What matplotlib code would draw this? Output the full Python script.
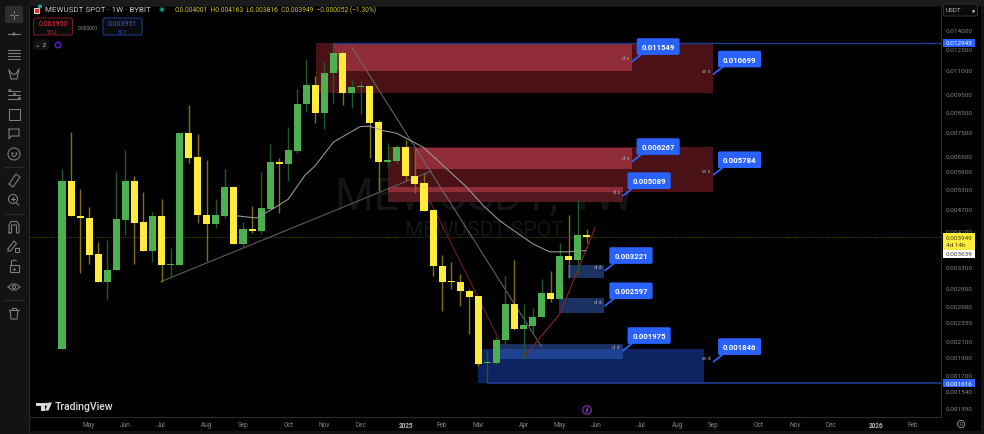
"""MEWUSDT weekly candles with supply / demand zones, drawn like a TradingView screen."""

import matplotlib
matplotlib.use("Agg")
import matplotlib.pyplot as plt
from matplotlib.patches import Circle, FancyBboxPatch, Polygon, Rectangle

plt.rcParams["font.family"] = ["Roboto", "DejaVu Sans"]

# ---------------------------------------------------------------------------
# Data
# ---------------------------------------------------------------------------
OPEN = [.00200, .00555, .00450, .00445, .00356, .00301, .00323, .00439, .00558, .00432,
        .00363, .00450, .00334, .00334, .00745, .00644, .00453, .00428, .00450, .00538,
        .00378, .00414, .00409, .00470, .00626, .00618, .00670, .00890, .01001, .00845,
        .01075, .01214, .00951, .00989, .00994, .00797, .00626, .00629, .00684, .00575,
        .00549, .00465, .00332, .00302, .00301, .00285, .00275, .00183, .00183, .00211,
        .00263, .00225, .00230, .00242, .00280, .00270, .00352, .00344, .004001]
HIGH = [.00599, .00750, .00531, .00476, .00383, .00387, .00588, .00673, .00575, .00521,
        .00460, .00499, .00370, .00748, .00886, .00742, .00631, .00499, .00599, .00541,
        .00433, .00479, .00588, .00698, .00641, .00773, .00977, .01173, .01059, .01154,
        .01295, .01229, .01032, .01028, .00998, .00808, .00701, .00694, .00716, .00681,
        .00583, .00465, .00355, .00339, .00315, .00288, .00275, .00198, .00215, .00312,
        .00344, .00263, .00256, .00305, .00321, .00382, .00453, .00499, .004163]
LOW = [.00200, .00449, .00318, .00336, .00300, .00271, .00323, .00401, .00336, .00363,
       .00339, .00301, .00308, .00334, .00622, .00431, .00341, .00418, .00444, .00378,
       .00370, .00406, .00402, .00470, .00458, .00558, .00661, .00847, .00795, .00765,
       .00897, .00888, .00870, .00839, .00641, .00523, .00607, .00618, .00558, .00517,
       .00463, .00312, .00252, .00288, .00260, .00218, .00180, .00162, .00182, .00205,
       .00224, .00188, .00218, .00242, .00265, .00270, .00308, .00313, .003816]
CLOSE = [.00555, .00449, .00444, .00355, .00301, .00324, .00440, .00558, .00430, .00363,
         .00450, .00334, .00336, .00745, .00642, .00452, .00428, .00452, .00538, .00378,
         .00414, .00409, .00471, .00624, .00618, .00673, .00893, .01001, .00845, .01077,
         .01214, .00951, .00991, .00997, .00795, .00626, .00632, .00684, .00573, .00547,
         .00463, .00331, .00301, .00300, .00284, .00274, .00182, .00184, .00211, .00263,
         .00225, .00231, .00242, .00280, .00270, .00352, .00344, .00401, .003949]

MA_WEEK = [19.3, 21.5, 23, 25, 26.85, 27.95, 30, 32.93, 34, 35.5, 37, 39.92, 44.72, 46.55,
           48.4, 52.04, 53.9, 55.77, 57.9]
MA_PRICE = [.0045, .00444, .00465, .00498, .00577, .0061, .00706, .00776, .00778, .00757,
            .00745, .00684, .00536, .00479, .00436, .00379, .00361, .00361, .003639]

TREND_A_WEEK = [10.94, 40.85]
TREND_A_PRICE = [.00301, .00592]
TREND_B_WEEK = [32.0, 53.0]
TREND_B_PRICE = [.01262, .00202]
RED_A_WEEK = [39.56, 48.4]
RED_A_PRICE = [.00557, .00209]
RED_B_WEEK = [50.97, 55.03, 58.9]
RED_B_PRICE = [.00189, .002475, .004175]

# zones: week from, week to, price top, price bottom
WS_UPPER = (28.07, 71.93, .012943, .00953)
DS_UPPER = (29.94, 62.98, .012943, .01088)
WS_LOWER = (36.02, 71.93, .00686, .00521)
DS_MID = (39.0, 62.98, .00681, .00599)
DS_LOW = (36.0, 62.0, .00537, .00490)
WD_ZONE = (45.97, 70.94, .00199, .001616)
DD_LOW = (48.18, 62.0, .00205, .00188)
DD_MID = (54.9, 59.9, .00273, .00248)
DD_HIGH = (55.9, 59.9, .00334, .00308)

# callouts: week of the tip, price
CALLOUT_WEEK = [63, 72, 63, 72, 62, 60, 60, 62, 72]
CALLOUT_PRICE = [.011549, .010699, .006267, .005784, .005089, .003221, .002597, .001975, .001846]
ZONE_TAGS = ["d s", "w s", "d s", "w s", "d s", "d d", "d d", "d d", "w d"]

CURRENT_PRICE = .003949
MA_LAST = .003639
LEVEL_HIGH = .012943
LEVEL_LOW = .001616

YTICKS = [.014, .0125, .011, .0095, .0085, .0075, .0065, .0059, .0053, .0047, .0041, .0033,
          .0029, .0026, .00235, .0021, .0019, .0017, .00154, .00139]
XTICK_WEEK = [3, 7, 11, 16, 20, 25, 29, 33, 38, 42, 46, 51, 55, 59, 64, 68, 72, 77, 81, 85, 90, 94]
XTICK_LABEL = ["May", "Jun", "Jul", "Aug", "Sep", "Oct", "Nov", "Dec", "2025", "Feb", "Mar", "Apr",
               "May", "Jun", "Jul", "Aug", "Sep", "Oct", "Nov", "Dec", "2026", "Feb"]

# ---------------------------------------------------------------------------
# Colours
# ---------------------------------------------------------------------------
GREEN = "#4caf50"
GREEN_WICK = "#1f5c27"
YELLOW = "#ffeb3b"
YELLOW_WICK = "#7d7114"
BLUE = "#2962ff"
WS_RED = "#4a1216"
DS_RED = "#8f2c38"
DS_RED_DIM = "#521a20"
WD_BLUE = "#0d2361"
DD_BLUE = "#1f4290"
DD_BLUE_DIM = "#1b3162"
TICK_GREY = "#858585"
ICON = "#7f8187"

W, H = 984, 435

fig = plt.figure(figsize=(W / 100, H / 100), dpi=100, facecolor="#131313")


def px_rect(x0, y0, x1, y1, color):
    fig.add_artist(Rectangle((x0 / W, 1 - y1 / H), (x1 - x0) / W, (y1 - y0) / H,
                             transform=fig.transFigure, fc=color, ec="none", zorder=-1))


px_rect(29, 8, 981, 432, "#000000")
px_rect(29, 0, 984, 7, "#1b1b1b")

# ---------------------------------------------------------------------------
# Price pane
# ---------------------------------------------------------------------------
ax = fig.add_axes([29 / W, 1 - 418 / H, 912 / W, 410 / H], facecolor="#000000")
ax.set_yscale("log")
ax.set_xlim(-3.646, 97.13)
ax.set_ylim(.001316, .01612)

# overlay in screen pixels for the interface around the chart
ui = fig.add_axes([0, 0, 1, 1], facecolor="none", zorder=5)
ui.set_xlim(0, W)
ui.set_ylim(H, 0)
ui.axis("off")

ax.text(484, 198, "MEWUSDT, 1W", transform=ui.transData, color="#151515", fontsize=32,
        ha="center", va="center", zorder=0)
ax.text(484, 231, "MEWUSDT SPOT", transform=ui.transData, color="#151515", fontsize=15,
        ha="center", va="center", zorder=0)


def draw_zone(zone, color, z):
    x0, x1, top, bottom = zone
    ax.add_patch(Rectangle((x0, bottom), x1 - x0, top - bottom, fc=color, ec="none", zorder=z))


def draw_overlap(a, b, color, z):
    x0, x1 = max(a[0], b[0]), min(a[1], b[1])
    top, bottom = min(a[2], b[2]), max(a[3], b[3])
    if top > bottom and x1 > x0:
        draw_zone((x0, x1, top, bottom), color, z)


draw_zone(WS_UPPER, WS_RED, 1)
draw_zone(DS_UPPER, DS_RED, 1.1)
draw_zone(DS_LOW, DS_RED_DIM, 1)
draw_zone(WS_LOWER, WS_RED, 1.05)
draw_overlap(WS_LOWER, DS_MID, DS_RED, 1.1)
draw_overlap(WS_LOWER, DS_LOW, DS_RED, 1.1)
draw_zone(WD_ZONE, WD_BLUE, 1)
draw_zone(DD_LOW, DD_BLUE_DIM, .9)
draw_overlap(WD_ZONE, DD_LOW, DD_BLUE, 1.1)
draw_zone(DD_MID, DD_BLUE_DIM, 1)
draw_zone(DD_HIGH, DD_BLUE_DIM, 1)

ax.axhline(CURRENT_PRICE, color="#6b6510", lw=.6, ls=(0, (1, 1.5)), zorder=1.5)
ax.hlines(LEVEL_HIGH, 30, 97.13, color="#1d3c94", lw=1, zorder=1.6)
ax.hlines(LEVEL_LOW, 47, 97.13, color="#1d3c94", lw=1.2, zorder=1.6)

ax.plot(TREND_A_WEEK, TREND_A_PRICE, color="#5c5c5c", lw=.8, zorder=2)
ax.plot(TREND_B_WEEK, TREND_B_PRICE, color="#6e6e6e", lw=.7, zorder=2)
ax.plot(RED_A_WEEK, RED_A_PRICE, color="#7a1c28", lw=.7, zorder=2)
ax.plot(RED_B_WEEK, RED_B_PRICE, color="#8a2230", lw=.8, zorder=2)

# candles
for i, (o, h, l, c) in enumerate(zip(OPEN, HIGH, LOW, CLOSE)):
    up = c >= o
    ax.vlines(i, l, h, color=GREEN_WICK if up else YELLOW_WICK, lw=1, zorder=3)
    ax.bar(i, abs(c - o), bottom=min(o, c), width=.78, color=GREEN if up else YELLOW,
           lw=0, zorder=3.1)

ax.plot(MA_WEEK, MA_PRICE, color="#9c9c9c", lw=.75, zorder=4)

# callouts with the zone tag beside each tip
for week, price, tag in zip(CALLOUT_WEEK, CALLOUT_PRICE, ZONE_TAGS):
    ax.annotate(tag, xy=(week, price), xytext=(-3, 4), textcoords="offset pixels",
                color="#a8a8a8", fontsize=4, ha="right", va="center", zorder=5)
    ax.annotate("", xy=(week, price), xytext=(14, 11), textcoords="offset pixels",
                arrowprops=dict(arrowstyle="-", color=BLUE, lw=1.3, shrinkA=0, shrinkB=0),
                zorder=6, annotation_clip=False)
    ax.annotate(f"{price:.6f}", xy=(week, price), xytext=(26, 15), textcoords="offset pixels",
                color="white", fontsize=5.6, fontweight="bold", ha="center", va="center",
                bbox=dict(boxstyle="round,pad=0.62,rounding_size=0.2", fc=BLUE, ec="none"),
                zorder=6, annotation_clip=False)

# axes
ax.yaxis.tick_right()
ax.set_yticks(YTICKS)
ax.set_yticklabels([f"{v:.6f}" for v in YTICKS])
ax.minorticks_off()
ax.tick_params(axis="y", length=0, pad=3.6, labelsize=4.6, labelcolor=TICK_GREY)
ax.set_xticks(XTICK_WEEK)
ax.set_xticklabels(XTICK_LABEL)
ax.tick_params(axis="x", length=0, pad=3, labelsize=4.7, labelcolor=TICK_GREY)
for label in ax.get_xticklabels():
    if label.get_text() in ("2025", "2026"):
        label.set_fontweight("bold")
        label.set_color("#b8b8b8")
for side in ("top", "left"):
    ax.spines[side].set_visible(False)
for side in ("bottom", "right"):
    ax.spines[side].set_color("#2c2c2c")
    ax.spines[side].set_linewidth(.8)


def price_to_ui_y(price):
    return H - ax.transData.transform((0, price))[1]


# price tags on the scale
for price in (LEVEL_HIGH, LEVEL_LOW):
    y = price_to_ui_y(price)
    ui.add_patch(Rectangle((942.5, y - 4), 32.5, 8, fc=BLUE, ec="none"))
    ui.text(946, y, f"{price:.6f}", color="white", fontsize=4.6, va="center")

y_now = price_to_ui_y(CURRENT_PRICE)
ui.add_patch(Rectangle((942.5, y_now - 4), 32.5, 16.5, fc="#ffeb3b", ec="none"))
ui.text(946, y_now, f"{CURRENT_PRICE:.6f}", color="#4a4600", fontsize=4.6, va="center")
ui.text(946, y_now + 7.5, "4d 14h", color="#4a4600", fontsize=4.6, va="center")
ui.add_patch(Rectangle((942.5, y_now + 12.5), 32.5, 8, fc="white", ec="none"))
ui.text(946, y_now + 16.5, f"{MA_LAST:.6f}", color="#444444", fontsize=4.6, va="center")

# ---------------------------------------------------------------------------
# Interface around the chart
# ---------------------------------------------------------------------------
ui.add_patch(Rectangle((0, 0), 28, 435, fc="#131313", ec="none"))
ui.plot([28.5, 28.5], [8, 433], color="#2a2a2a", lw=.9)
ui.add_patch(FancyBboxPatch((5, 7), 18, 17, boxstyle="round,pad=0,rounding_size=2",
                            fc="#2e2e2e", ec="none"))


def icon(xs, ys, cx=14, cy=0):
    ui.plot([cx + x for x in xs], [cy + y for y in ys], color=ICON, lw=.75,
            solid_capstyle="round", solid_joinstyle="round")


def ring(x, y, r, color=ICON, lw=.75):
    ui.add_patch(Circle((x, y), r, fc="none", ec=color, lw=lw))


icon([-4, -1.2], [0, 0], cy=15.5)
icon([1.2, 4], [0, 0], cy=15.5)
icon([0, 0], [-4, -1.2], cy=15.5)
icon([0, 0], [1.2, 4], cy=15.5)
icon([-6, 6], [0, 0], cy=35)
ring(14, 35, 1)
for dy in (-4.5, -1.5, 1.5, 4.5):
    icon([-6, 6], [dy, dy], cy=55)
icon([-5, -2, 2, 5, 3, -3, -5], [-4, 0, 0, -5, 5, 5, -4], cy=75)
for dy in (-3.5, 0.5, 4.5):
    icon([-6, 6], [dy, dy], cy=95)
    ring(14 + (dy * 1.2), 95 + dy, 1)
ui.add_patch(Rectangle((8.5, 109.5), 11, 11, fc="none", ec=ICON, lw=.75))
icon([-5, 5, 5, -3, -5, -5], [-5, -5, 2, 2, 5, -5], cy=135)
ring(14, 155, 6)
icon([-2, 0, 2], [1.5, 2.8, 1.5], cy=155)
ui.plot([12, 16], [153.5, 153.5], ls="none", marker=".", ms=1.2, color=ICON)
icon([-5, 2, 6, -1, -5], [4, -6, -3, 7, 4], cy=181)
ring(13, 200, 4.5)
icon([3.5, 6], [4, 6.5], cy=200, cx=13)
icon([-2, 2], [0, 0], cy=200, cx=13)
icon([0, 0], [-2, 2], cy=200, cx=13)
icon([-5, -5, -3, 3, 5, 5, 2.5, 2.5, -2.5, -2.5, -5], [6, -2, -5.5, -5.5, -2, 6, 6, -2, -2, 6, 6], cy=228)
icon([-6, 0, 2.5, -3.5, -6, -6], [3, -5, -2.5, 5, 5, 3], cy=247)
ui.add_patch(Rectangle((14.5, 249), 4.5, 3.5, fc="none", ec=ICON, lw=.75))
ui.add_patch(Rectangle((9.5, 266), 9, 7, fc="none", ec=ICON, lw=.75))
icon([-2.5, -2.5, 0, 2.5], [-2, -6, -7, -6], cy=268)
ui.plot([14], [269.5], marker=".", ms=1.5, color=ICON)
icon([-6, -2, 2, 6, 2, -2, -6], [0, -3, -3, 0, 3, 3, 0], cy=288)
ring(14, 288, 1.6)
icon([-4, -3, 3, 4], [-3, 6, 6, -3], cy=314)
icon([-5, 5], [-3.5, -3.5], cy=314)
icon([-2, -2, 2, 2], [-3.5, -5.5, -5.5, -3.5], cy=314)
for sep in (168, 215, 301):
    ui.plot([4, 24], [sep, sep], color="#2a2a2a", lw=.8)

# header
ui.add_patch(Rectangle((34, 9), 5, 5, fc="#e8262d", ec="white", lw=.6))
ui.add_patch(Circle((40, 7.5), 2, fc="#26a69a", ec="none"))
ui.text(45, 10.5, "MEWUSDT SPOT · 1W · BYBIT", color="#c8cbd2", fontsize=5.8, va="center")
ui.add_patch(Circle((162, 10.5), 3.2, fc="#0a4a40", ec="none", alpha=.6))
ui.add_patch(Circle((162, 10.5), 1.8, fc="#139c86", ec="none"))
ui.text(175, 10.5, "O0.004001  H0.004163  L0.003816  C0.003949  −0.000052 (−1.30%)",
        color="#d8c936", fontsize=4.75, va="center")

# sell / buy buttons
ui.add_patch(FancyBboxPatch((33.5, 19), 39, 17, boxstyle="round,pad=0,rounding_size=2",
                            fc="#0b0b0b", ec="#7a1622", lw=.8))
ui.text(53, 24.5, "0.003950", color="#d9323f", fontsize=5, ha="center", va="center")
ui.text(53, 32, "SELL", color="#a82633", fontsize=3.8, ha="center", va="center")
ui.text(88, 28, "0.000001", color="#9a9a9a", fontsize=3.5, ha="center", va="center")
ui.add_patch(FancyBboxPatch((103, 19), 39, 17, boxstyle="round,pad=0,rounding_size=2",
                            fc="#0b0b0b", ec="#1a3a8f", lw=.8))
ui.text(122.5, 24.5, "0.003951", color="#2a5fe8", fontsize=5, ha="center", va="center")
ui.text(122.5, 32, "BUY", color="#1e46a8", fontsize=3.8, ha="center", va="center")
ui.add_patch(FancyBboxPatch((33, 40.5), 16, 10.5, boxstyle="round,pad=0,rounding_size=1.5",
                            fc="#111111", ec="none"))
ui.text(41, 45.8, "⌄ 2", color="#c8c8c8", fontsize=4.5, ha="center", va="center",
        family=["DejaVu Sans"])
ring(58, 46, 2.8, color="#5a22c8", lw=1)

# right top currency box
ui.add_patch(FancyBboxPatch((943.5, 5), 34, 12, boxstyle="round,pad=0,rounding_size=1.5",
                            fc="#0a0a0a", ec="#333333", lw=.7))
ui.text(946, 11, "USDT", color="#b8b8b8", fontsize=4.6, va="center")
ui.plot([973], [11.5], marker="v", ms=1.2, color="#b8b8b8")

# TradingView mark
mark = "#dcdcdc"
ui.add_patch(Polygon([(36, 403.5), (44.5, 403.5), (44.5, 411.5), (41, 411.5), (41, 407), (36, 407)],
                     fc=mark, ec="none"))
ui.add_patch(Circle((46.5, 405.3), 1.6, fc=mark, ec="none"))
ui.add_patch(Polygon([(45, 411.5), (48.5, 403.5), (52, 403.5), (48.5, 411.5)], fc=mark, ec="none"))
ui.text(55, 407.3, "TradingView", color=mark, fontsize=7.6, fontweight="medium", va="center")

# misc markers
ring(587, 411, 4.3, color="#7e2aa8", lw=.9)
ui.plot([588, 586, 588, 586], [408.5, 411.2, 410.8, 413.5], color="#8e3ac0", lw=.7)
ring(961, 425, 3.6, color="#8a8a8a", lw=.7)
ui.text(961, 425, "R", color="#8a8a8a", fontsize=3.4, ha="center", va="center")

fig.savefig("out.png", dpi=100, facecolor=fig.get_facecolor())
